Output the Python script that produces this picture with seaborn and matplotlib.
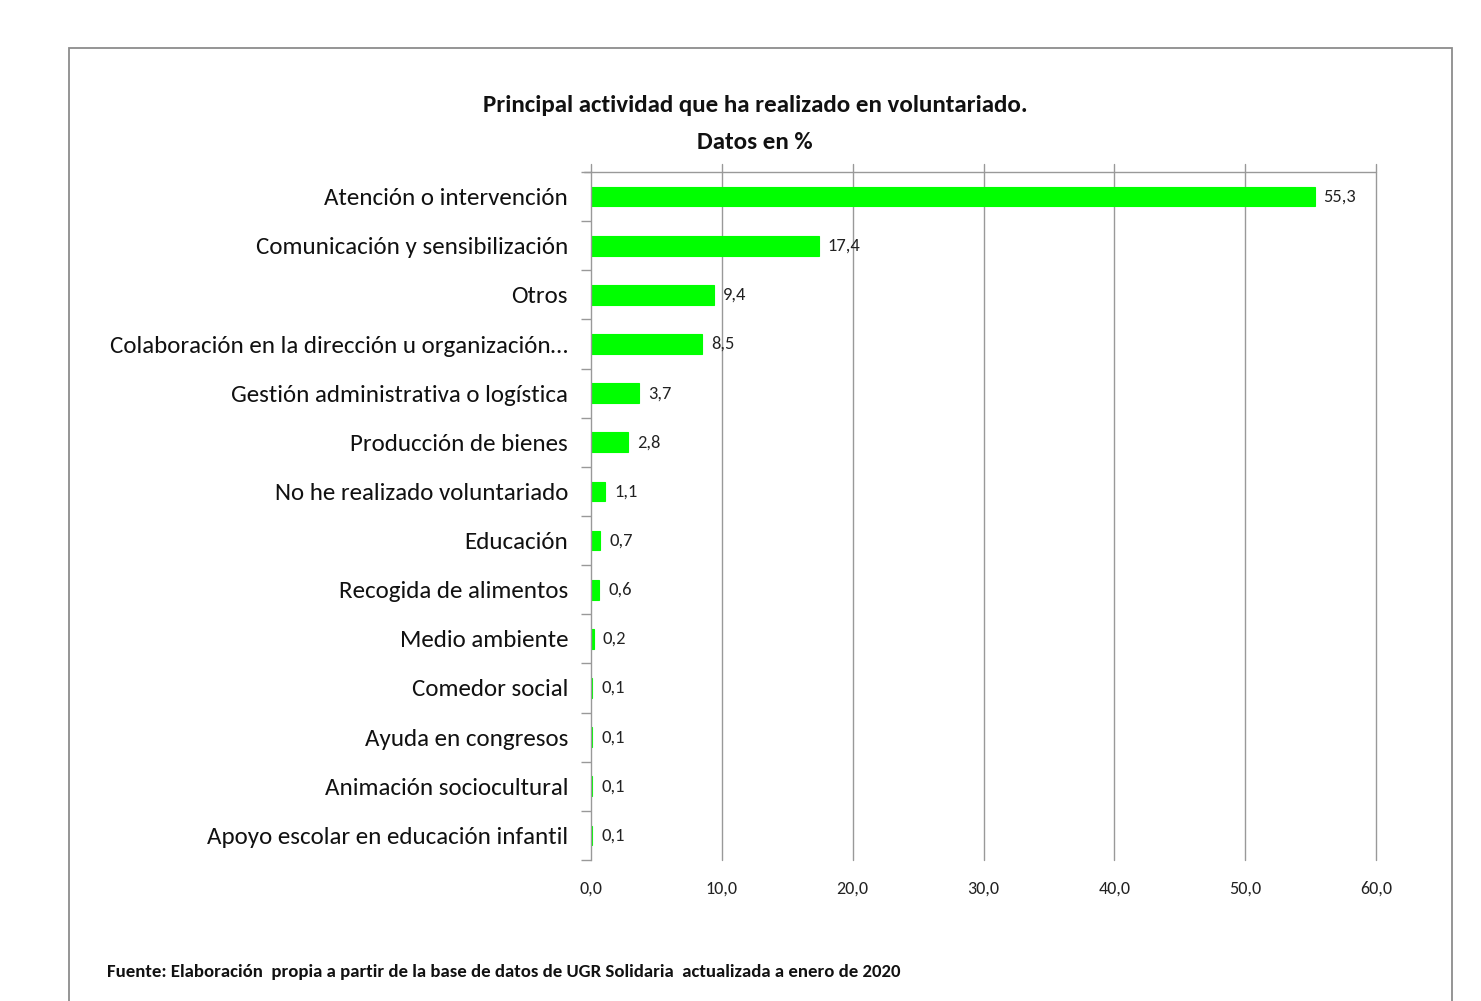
import matplotlib
matplotlib.use("Agg")
import matplotlib.pyplot as plt
import seaborn as sns
import pandas as pd
import numpy as np
from matplotlib.patches import Rectangle

categories = [
    "Atención o intervención",
    "Comunicación y sensibilización",
    "Otros",
    "Colaboración en la dirección u organización…",
    "Gestión administrativa o logística",
    "Producción de bienes",
    "No he realizado voluntariado",
    "Educación",
    "Recogida de alimentos",
    "Medio ambiente",
    "Comedor social",
    "Ayuda en congresos",
    "Animación sociocultural",
    "Apoyo escolar en educación infantil",
]
values = [55.3, 17.4, 9.4, 8.5, 3.7, 2.8, 1.1, 0.7, 0.6, 0.2, 0.1, 0.1, 0.1, 0.1]
x_ticks = [0, 10, 20, 30, 40, 50, 60]

sns.set_theme(style="white")
FONT = ["Carlito", "Roboto Condensed", "DejaVu Sans"]
plt.rcParams["font.family"] = FONT

df = pd.DataFrame({"cat": categories, "val": values})

fig = plt.figure(figsize=(14.81, 10.01), dpi=100)
ax = fig.add_axes([591/1481, 1-860/1001, (1376-591)/1481, (860-172)/1001])

sns.barplot(data=df, x="val", y="cat", order=categories, color="#00FF00",
            saturation=1, width=0.4, ax=ax, orient="h",
            edgecolor="#00FF00", linewidth=0.8)

ax.set_xlim(0, 60)
ax.set_ylim(len(categories)-0.5, -0.5)
ax.set_xticks(x_ticks)
ax.set_xticklabels([f"{t:.1f}".replace(".", ",") for t in x_ticks], fontsize=13, color="#222222")
ax.tick_params(axis="x", length=0, pad=15)
ax.tick_params(axis="y", which="major", length=0, pad=16.5, labelsize=18, labelcolor="#111111")
ax.set_yticks(np.arange(-0.5, len(categories)), minor=True)
ax.tick_params(axis="y", which="minor", length=7, color="#999999", width=1, left=True)
ax.set_xlabel("")
ax.set_ylabel("")
for s in ["top", "right", "bottom"]:
    ax.spines[s].set_visible(False)
ax.spines["left"].set_color("#999999")
ax.spines["left"].set_linewidth(1)
ax.grid(False)
for t in x_ticks[1:]:
    ax.plot([t, t], [len(categories)-0.5, -0.66], color="#999999", lw=1, clip_on=False, zorder=0)
ax.plot([0, 0], [-0.5, -0.66], color="#999999", lw=1, clip_on=False)
ax.plot([-0.55, 60], [-0.5, -0.5], color="#999999", lw=1, clip_on=False, zorder=0)

for i, v in enumerate(values):
    ax.text(v + 0.7, i, f"{v:.1f}".replace(".", ","), va="center", ha="left",
            fontsize=13.3, color="#222222")

fig.text(755/1481, 1-105/1001, "Principal actividad que ha realizado en voluntariado.",
         ha="center", va="center", fontsize=18, fontweight="bold", color="#111111")
fig.text(755/1481, 1-143/1001, "Datos en %", ha="center", va="center",
         fontsize=18, fontweight="bold", color="#111111")
fig.text(107/1481, 1-972/1001,
         "Fuente: Elaboración  propia a partir de la base de datos de UGR Solidaria  actualizada a enero de 2020",
         ha="left", va="center", fontsize=13.5, fontweight="bold", color="#111111")

fig.patches.append(Rectangle((69/1481, -0.01), (1452-69)/1481, 1-48/1001+0.01,
                             transform=fig.transFigure, fill=False,
                             edgecolor="#8c8c8c", lw=1.3))

fig.savefig("out.png", dpi=100, facecolor="white")
